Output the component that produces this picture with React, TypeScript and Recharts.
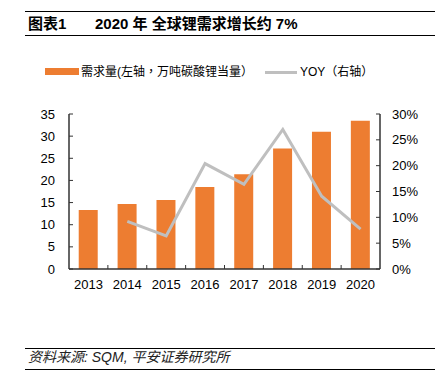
import React from "react"
import { ComposedChart, Bar, Line, XAxis, YAxis } from "recharts"

const years = ["2013", "2014", "2015", "2016", "2017", "2018", "2019", "2020"]
const demand = [13.3, 14.7, 15.6, 18.5, 21.4, 27.2, 31.0, 33.5]
const yoy = [null, 9.2, 6.4, 20.4, 16.4, 27.0, 14.1, 7.7]
const leftTicks = [0, 5, 10, 15, 20, 25, 30, 35]
const rightTicks = [0, 5, 10, 15, 20, 25, 30]

const data = years.map((year, i) => ({ year, demand: demand[i], yoy: yoy[i] }))

const FONT = '"Liberation Sans", Arial, "Noto Sans CJK SC", sans-serif'
const FONT_TC = '"Liberation Sans", Arial, "Noto Sans CJK TC", sans-serif'
const ORANGE = "#ED7D31"
const GREY = "#BFBFBF"
const AXIS = "#333"

const PLOT_LEFT = 69
const PLOT_RIGHT = 380
const BAND = (PLOT_RIGHT - PLOT_LEFT) / years.length

function XTick(props: any) {
  const { x, y, payload, index } = props
  const axisY = y - 8
  return (
    <g>
      {index > 0 && (
        <line x1={x - BAND / 2} x2={x - BAND / 2} y1={axisY} y2={axisY - 4} stroke={AXIS} strokeWidth={1} />
      )}
      <text x={x} y={y} dy="0.9em" textAnchor="middle" fontSize={13} fontFamily={FONT} fill="#000">
        {payload.value}
      </text>
    </g>
  )
}

export default function App() {
  return (
    <div style={{ position: "absolute", left: 0, top: 0, width: 441, height: 377, background: "#fff", fontFamily: FONT }}>
      {/* title */}
      <div style={{ position: "absolute", left: 25, top: 11, width: 410, height: 23, borderTop: "1.5px solid #000", borderBottom: "1.5px solid #000" }} />
      <div style={{ position: "absolute", left: 28, top: 15, fontSize: 15, fontWeight: "bold", lineHeight: "18px", color: "#000", whiteSpace: "nowrap" }}>
        图表1
      </div>
      <div style={{ position: "absolute", left: 95, top: 15, fontSize: 15, fontWeight: "bold", lineHeight: "18px", color: "#000", whiteSpace: "nowrap" }}>
        2020 年 全球锂需求增长约 7%
      </div>

      {/* legend */}
      <div style={{ position: "absolute", left: 45, top: 68, width: 34, height: 7, background: ORANGE }} />
      <div style={{ position: "absolute", left: 81, top: 64, fontSize: 12, lineHeight: "16px", color: "#000", whiteSpace: "nowrap", fontFamily: FONT_TC }}>
        需求量(左轴，万吨碳酸锂当量）
      </div>
      <div style={{ position: "absolute", left: 265, top: 70.5, width: 32, height: 3, background: GREY }} />
      <div style={{ position: "absolute", left: 300, top: 64, fontSize: 12, lineHeight: "16px", color: "#000", whiteSpace: "nowrap", fontFamily: FONT_TC }}>
        YOY（右轴）
      </div>

      <div style={{ position: "absolute", left: 0, top: 0 }}>
        <ComposedChart width={441} height={300} data={data} margin={{ top: 114, right: 16, bottom: 1, left: 29 }} barCategoryGap="25%">
          <XAxis
            dataKey="year"
            height={30}
            axisLine={{ stroke: AXIS, strokeWidth: 1.5 }}
            tickLine={false}
            tickSize={0}
            tickMargin={8}
            tick={<XTick />}
            interval={0}
          />
          <YAxis
            yAxisId="left"
            width={40}
            domain={[0, 35]}
            ticks={leftTicks}
            axisLine={{ stroke: AXIS, strokeWidth: 1.5 }}
            tickLine={{ stroke: AXIS }}
            tickSize={-4}
            tickMargin={18}
            tick={{ fontSize: 13, fill: "#000", fontFamily: FONT }}
            interval={0}
          />
          <YAxis
            yAxisId="right"
            orientation="right"
            width={45}
            domain={[0, 30]}
            ticks={rightTicks}
            tickFormatter={(v: number) => `${v}%`}
            axisLine={{ stroke: AXIS, strokeWidth: 1.5 }}
            tickLine={{ stroke: AXIS }}
            tickSize={-4}
            tickMargin={16}
            tick={{ fontSize: 13, fill: "#000", fontFamily: FONT, textAnchor: "start" }}
            interval={0}
          />
          <Bar yAxisId="left" dataKey="demand" fill={ORANGE} isAnimationActive={false} />
          <Line
            yAxisId="right"
            dataKey="yoy"
            stroke={GREY}
            strokeWidth={3}
            dot={false}
            type="linear"
            isAnimationActive={false}
          />
        </ComposedChart>
      </div>

      {/* source */}
      <div style={{ position: "absolute", left: 25, top: 348, width: 410, height: 20, borderTop: "1px solid #000", borderBottom: "1px solid #000" }} />
      <div style={{ position: "absolute", left: 28, top: 349, fontSize: 14, fontStyle: "italic", lineHeight: "17px", color: "#222", whiteSpace: "nowrap", fontFamily: FONT_TC }}>
        资料来源: SQM, 平安证券研究所
      </div>
    </div>
  )
}
